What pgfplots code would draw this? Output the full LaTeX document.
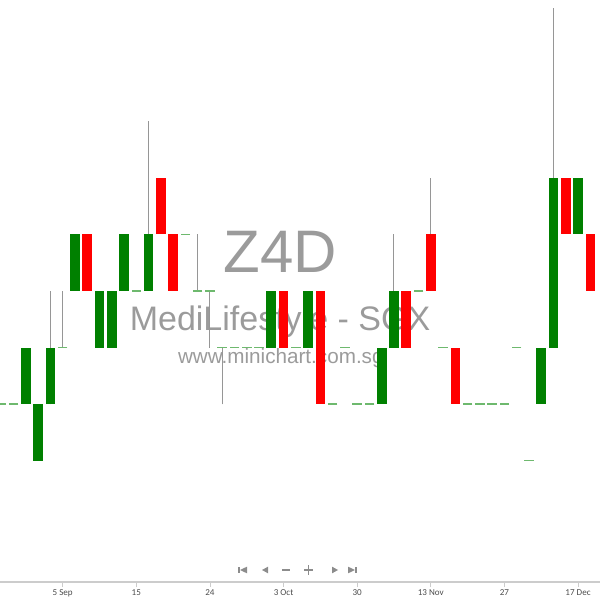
\documentclass[border=0pt]{standalone}
\usepackage{pgfplots}
\usepackage{pgfplotstable}
\pgfplotsset{compat=1.18}
\usepackage{fontspec}
\setmainfont{Carlito}
\newfontfamily\wmfont{Liberation Sans}
\definecolor{cgreen}{RGB}{0,128,0}
\definecolor{cred}{RGB}{255,0,0}
\definecolor{cdoji}{RGB}{110,185,110}
\definecolor{cwick}{RGB}{150,150,150}
\definecolor{cwm}{RGB}{155,155,155}
\definecolor{cnav}{RGB}{140,140,140}

% candles: x = trading-day index, prices in SGD
\pgfplotstableread{
i o c
-3 0.036 0.037
-2 0.035 0.036
-1 0.036 0.037
1 0.038 0.039
3 0.037 0.038
4 0.037 0.038
5 0.038 0.039
7 0.038 0.039
17 0.037 0.038
20 0.037 0.038
26 0.036 0.037
27 0.037 0.038
39 0.036 0.037
40 0.037 0.040
42 0.039 0.040
}\upcandles
\pgfplotstableread{
i o c
2 0.039 0.038
8 0.040 0.039
9 0.039 0.038
18 0.038 0.037
21 0.038 0.036
28 0.038 0.037
30 0.039 0.038
32 0.037 0.036
41 0.040 0.039
43 0.039 0.038
}\downcandles
\pgfplotstableread{
i p
-5 0.036
-4 0.036
0 0.037
6 0.038
10 0.039
11 0.038
12 0.038
13 0.037
14 0.037
15 0.037
16 0.037
19 0.037
22 0.036
23 0.037
24 0.036
25 0.036
29 0.038
31 0.037
33 0.036
34 0.036
35 0.036
36 0.036
37 0.037
38 0.035
44 0.039
}\flatcandles
\pgfplotstableread{
i l h
-1 0.036 0.038
0 0.037 0.038
7 0.038 0.041
11 0.038 0.039
12 0.037 0.038
13 0.036 0.037
27 0.037 0.039
30 0.038 0.040
40 0.037 0.043
}\wicks

\begin{document}
\begin{tikzpicture}
\useasboundingbox (0,-13.5pt) rectangle (450pt,436.5pt);
\begin{axis}[
  scale only axis, width=450pt, height=436.5pt,
  at={(0,0)}, anchor=south west,
  xmin=-5.11, xmax=43.79, ymin=0.03285, ymax=0.04315,
  axis x line*=bottom, axis y line=none,
  x axis line style={draw=black!20, line width=0.8pt},
  xtick={-6,0,6,12,18,24,30,36,42},
  xticklabels={27 Aug,5 Sep,15,24,3 Oct,30,13 Nov,27,17 Dec},
  xticklabel style={font=\fontsize{6.8}{7}\selectfont, text=black!70, inner sep=1.5pt},
  tick align=outside, major tick length=3.8pt,
  tick style={draw=black!20, line width=0.6pt},
  ytick=\empty,
  candle/.style={only marks, mark size=0pt, mark options={draw=none, fill=none}},
]
% watermark
\node[anchor=base, font=\wmfont\fontsize{45}{45}\selectfont, text=cwm] at (rel axis cs:0.4667,0.5326) {Z4D};
\node[anchor=base, font=\wmfont\fontsize{25.5}{25.5}\selectfont, text=cwm] at (rel axis cs:0.4667,0.4313) {MediLifestyle - SGX};
\node[anchor=base, font=\wmfont\fontsize{15.5}{15.5}\selectfont, text=cwm] at (rel axis cs:0.468,0.3746) {www.minichart.com.sg};

% wicks
\addplot[candle, error bars/.cd, y dir=plus, y explicit, error mark=none,
  error bar style={line width=0.75pt, draw=cwick}]
  table[x=i, y=l, y error expr=\thisrow{h}-\thisrow{l}] {\wicks};
% rising bodies
\addplot[candle, error bars/.cd, y dir=both, y explicit, error mark=none,
  error bar style={line width=7.2pt, draw=cgreen}]
  table[x=i, y expr=(\thisrow{o}+\thisrow{c})/2, y error expr=(\thisrow{c}-\thisrow{o})/2] {\upcandles};
% falling bodies
\addplot[candle, error bars/.cd, y dir=both, y explicit, error mark=none,
  error bar style={line width=7.2pt, draw=cred}]
  table[x=i, y expr=(\thisrow{o}+\thisrow{c})/2, y error expr=(\thisrow{o}-\thisrow{c})/2] {\downcandles};
% unchanged days
\addplot[only marks, mark=-, mark size=3.6pt, mark options={draw=cdoji, line width=0.9pt}]
  table[x=i, y=p] {\flatcandles};
\end{axis}
% navigation buttons
\begin{scope}[cnav]
\fill (178.5pt,6.5pt) rectangle (179.7pt,11.5pt);
\fill (180pt,9pt) -- (185.25pt,11.5pt) -- (185.25pt,6.5pt) -- cycle;
\fill (196.5pt,9pt) -- (201pt,11.5pt) -- (201pt,6.5pt) -- cycle;
\draw[line width=0.9pt] (211.5pt,9pt) -- (217.5pt,9pt);
\draw[line width=0.9pt] (228pt,9pt) -- (234.75pt,9pt) (231.4pt,5.6pt) -- (231.4pt,12.4pt);
\fill (253.5pt,9pt) -- (249pt,11.5pt) -- (249pt,6.5pt) -- cycle;
\fill (266.25pt,9pt) -- (261pt,11.5pt) -- (261pt,6.5pt) -- cycle;
\fill (266.6pt,6.5pt) rectangle (267.8pt,11.5pt);
\end{scope}
\end{tikzpicture}
\end{document}
